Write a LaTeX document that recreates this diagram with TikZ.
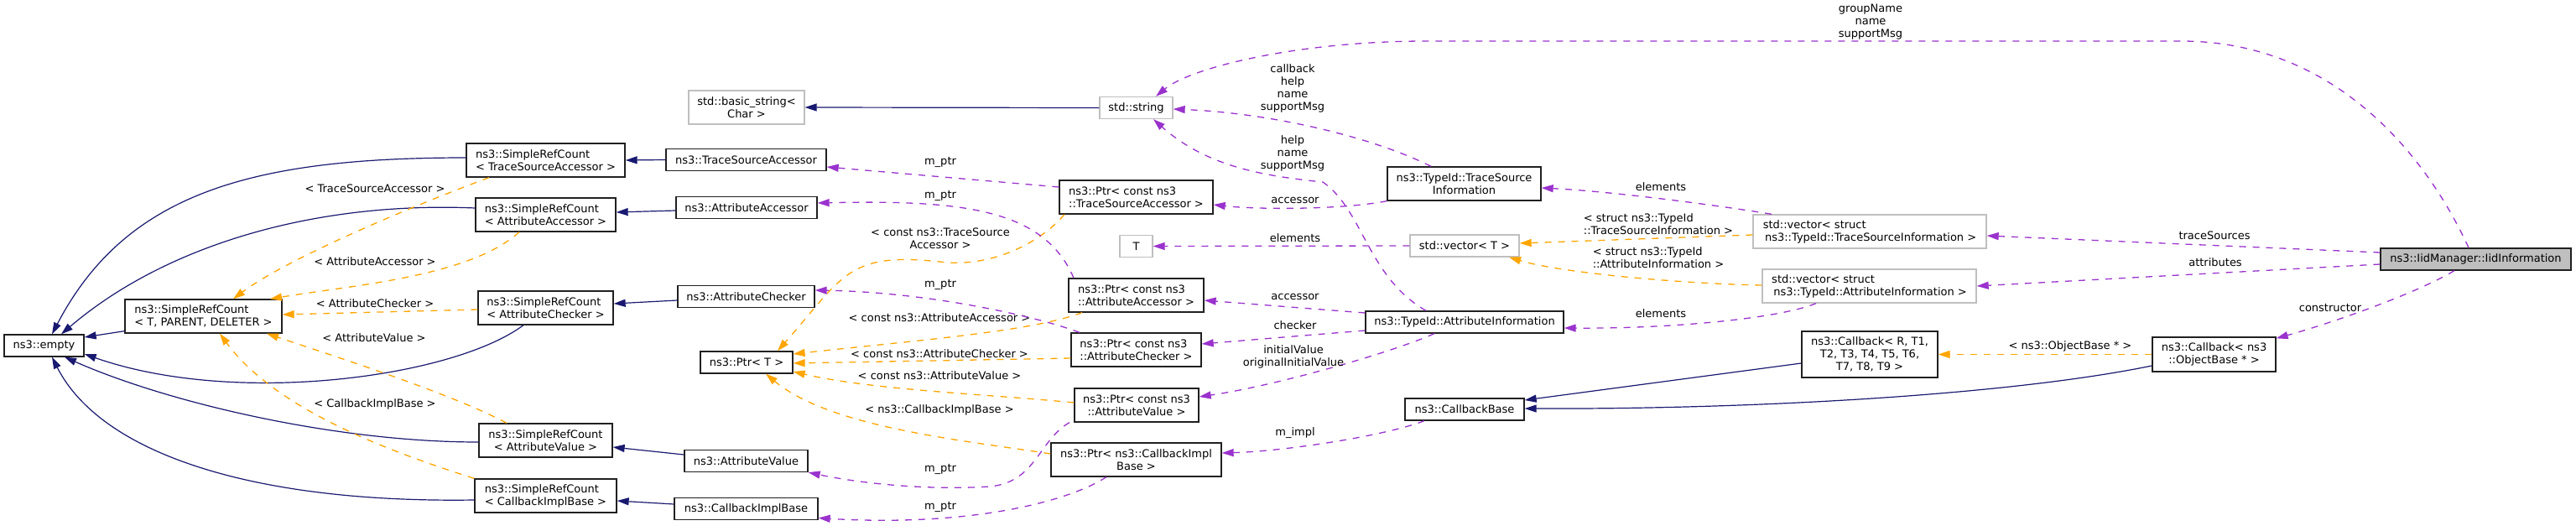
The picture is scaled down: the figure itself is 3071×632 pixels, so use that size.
\documentclass[tikz,border=0pt]{standalone}
\usepackage{fontspec}
\setmainfont{DejaVu Sans}
\usetikzlibrary{arrows.meta}
\definecolor{inhc}{HTML}{191970}
\definecolor{tplc}{HTML}{FFA500}
\definecolor{usec}{HTML}{9A32CD}
\definecolor{undoc}{HTML}{BFBFBF}
\definecolor{docb}{HTML}{202020}
\tikzset{
  cls/.style={draw=docb, line width=1.3pt, fill=white, inner sep=0pt, font=\fontsize{13}{15}\selectfont, align=center},
  ext/.style={cls, draw=undoc},
  cur/.style={cls, fill=undoc},
  lbl/.style={font=\fontsize{13}{15}\selectfont, align=center, inner sep=0pt},
  tipx/.style={-{Triangle[length=14pt,width=9pt]}},
  inh/.style={draw=inhc, line width=1.2pt, tipx},
  tpl/.style={draw=tplc, line width=1.3pt, dash pattern=on 8pt off 8pt, tipx},
  use/.style={draw=usec, line width=1.3pt, dash pattern=on 8pt off 8pt, tipx},
}
\begin{document}
\begin{tikzpicture}[x=1pt,y=-1pt]
\useasboundingbox (0,0) rectangle (3071,632);
% ---------- nodes ----------
\node[cls, minimum width=95pt, minimum height=26pt] (empty) at (52.5,412) {ns3::empty};
\node[cls, align=left, minimum width=187pt, minimum height=40pt] (srcTPD) at (242.5,377) {ns3::SimpleRefCount\\< T, PARENT, DELETER >};
\node[cls, align=left, minimum width=189pt, minimum height=40pt] (srcTSA) at (650.5,191) {ns3::SimpleRefCount\\< TraceSourceAccessor >};
\node[cls, align=left, minimum width=167pt, minimum height=40pt] (srcAA) at (650.5,256) {ns3::SimpleRefCount\\< AttributeAccessor >};
\node[cls, align=left, minimum width=161pt, minimum height=40pt] (srcAC) at (650.5,367) {ns3::SimpleRefCount\\< AttributeChecker >};
\node[cls, minimum width=159pt, minimum height=40pt] (srcAV) at (650.5,525) {ns3::SimpleRefCount\\< AttributeValue >};
\node[cls, align=left, minimum width=169pt, minimum height=40pt] (srcCIB) at (650.5,591) {ns3::SimpleRefCount\\< CallbackImplBase >};
\node[ext, minimum width=138pt, minimum height=40pt] (basicstr) at (890,128) {std::basic\_string<\\Char >};
\node[cls, minimum width=191pt, minimum height=26pt] (TSA) at (889.5,190.5) {ns3::TraceSourceAccessor};
\node[cls, minimum width=168pt, minimum height=26pt] (AA) at (890,247.5) {ns3::AttributeAccessor};
\node[cls, minimum width=163pt, minimum height=26pt] (AC) at (889.5,353.5) {ns3::AttributeChecker};
\node[cls, minimum width=110pt, minimum height=26pt] (PtrT) at (890,432) {ns3::Ptr< T >};
\node[cls, minimum width=147pt, minimum height=26pt] (AV) at (889.5,549.5) {ns3::AttributeValue};
\node[cls, minimum width=171pt, minimum height=26pt] (CIB) at (889.5,606.5) {ns3::CallbackImplBase};
\node[ext, minimum width=87pt, minimum height=26pt] (string) at (1354.5,128.5) {std::string};
\node[cls, align=left, minimum width=183pt, minimum height=40pt] (PtrTSA) at (1354.5,235) {ns3::Ptr< const ns3\\::TraceSourceAccessor >};
\node[ext, minimum width=39pt, minimum height=26pt] (T) at (1354.5,293.5) {T};
\node[cls, align=left, minimum width=161pt, minimum height=40pt] (PtrAA) at (1354.5,352) {ns3::Ptr< const ns3\\::AttributeAccessor >};
\node[cls, align=left, minimum width=155pt, minimum height=40pt] (PtrAC) at (1354.5,417) {ns3::Ptr< const ns3\\::AttributeChecker >};
\node[cls, minimum width=148pt, minimum height=40pt] (PtrAV) at (1355,483) {ns3::Ptr< const ns3\\::AttributeValue >};
\node[cls, minimum width=203pt, minimum height=40pt] (PtrCIB) at (1354.5,548) {ns3::Ptr< ns3::CallbackImpl\\Base >};
\node[cls, minimum width=183pt, minimum height=40pt] (TSI) at (1745.5,219) {ns3::TypeId::TraceSource\\Information};
\node[cls, minimum width=236pt, minimum height=26pt] (AI) at (1746,384) {ns3::TypeId::AttributeInformation};
\node[ext, minimum width=130pt, minimum height=26pt] (vecT) at (1746,293) {std::vector< T >};
\node[cls, minimum width=142pt, minimum height=26pt] (CBBase) at (1746,488) {ns3::CallbackBase};
\node[ext, align=left, minimum width=278pt, minimum height=40pt] (vecTSI) at (2229,276) {std::vector< struct\\\,ns3::TypeId::TraceSourceInformation >};
\node[ext, align=left, minimum width=255pt, minimum height=40pt] (vecAI) at (2228.5,341) {std::vector< struct\\\,ns3::TypeId::AttributeInformation >};
\node[cls, minimum width=162pt, minimum height=55pt] (CbR) at (2229,422.5) {ns3::Callback< R, T1,\\T2, T3, T4, T5, T6,\hspace{12pt}\\T7, T8, T9 >};
\node[cls, minimum width=147pt, minimum height=41pt] (CbOB) at (2639.5,422.5) {ns3::Callback< ns3\\::ObjectBase * >};
\node[cur, minimum width=227pt, minimum height=26pt] (Iid) at (2951.5,309) {ns3::IidManager::IidInformation};
% ---------- inheritance ----------
\draw[inh] ([yshift=3pt]srcTPD.south west) -- ([yshift=10pt]empty.east);
\draw[inh] ([yshift=3pt]srcTSA.west) .. controls (300,188) and (150,230) .. ([xshift=9.5pt]empty.north);
\draw[inh] ([yshift=8pt]srcAA.west) .. controls (380,240) and (200,290) .. ([xshift=20.5pt]empty.north);
\draw[inh] ([xshift=-26.5pt]srcAC.south) .. controls (540,450) and (280,485) .. ([yshift=-10pt]empty.east);
\draw[inh] ([yshift=-2pt]srcAV.west) .. controls (400,527) and (200,480) .. ([xshift=24.5pt]empty.south);
\draw[inh] ([yshift=-5pt]srcCIB.west) .. controls (300,600) and (120,540) .. ([xshift=9.5pt]empty.south);
\draw[inh] (TSA.west) -- (srcTSA.east);
\draw[inh] ([yshift=-3.5pt]AA.west) -- ([yshift=3pt]srcAA.east);
\draw[inh] ([yshift=-4.5pt]AC.west) -- ([yshift=5pt]srcAC.east);
\draw[inh] ([yshift=7.5pt]AV.west) -- ([yshift=-8pt]srcAV.east);
\draw[inh] ([yshift=5.5pt]CIB.west) -- ([yshift=-6pt]srcCIB.east);
\draw[inh] (string.west) -- (basicstr.east);
\draw[inh] ([yshift=-10.5pt]CbR.west) -- ([yshift=11pt]CBBase.east);
\draw[inh] ([yshift=-13.5pt]CbOB.west) .. controls (2400,470) and (2100,488) .. ([yshift=1pt]CBBase.east);
% ---------- template instances ----------
\draw[tpl] ([xshift=-67.5pt]srcTSA.south) .. controls (480,250) and (340,310) .. ([xshift=35.5pt]srcTPD.north);
\node[lbl] (lTSA) at (447,225) {< TraceSourceAccessor >};
\draw[tpl] ([xshift=-31.5pt]srcAA.south) .. controls (560,330) and (420,340) .. ([xshift=79.5pt]srcTPD.north);
\node[lbl] (lAA) at (447,312) {< AttributeAccessor >};
\draw[tpl] ([yshift=-2pt]srcAC.west) -- ([yshift=2pt]srcTPD.east);
\node[lbl] (lAC) at (447,362) {< AttributeChecker >};
\draw[tpl] ([xshift=-46.5pt]srcAV.north) .. controls (540,470) and (400,425) .. ([xshift=75.5pt]srcTPD.south);
\node[lbl] (lAV) at (446,403) {< AttributeValue >};
\draw[tpl] (srcCIB.north west) .. controls (470,540) and (330,490) .. ([xshift=19.5pt]srcTPD.south);
\node[lbl] (lCIB) at (447,482) {< CallbackImplBase >};
\draw[tpl] ([xshift=-85.5pt]PtrTSA.south) .. controls (1240,290) and (1180,320) .. (1120,312)
   .. controls (1010,300) and (1005,330) .. ([xshift=37pt]PtrT.north);
\node[lbl] (lcTSA) at (1121,284.5) {< const ns3::TraceSource\\Accessor >};
\draw[tpl] ([xshift=-64.5pt]PtrAA.south) .. controls (1230,395) and (1100,405) .. ([yshift=10pt]PtrT.east);
\node[lbl] (lcAA) at (1120,379) {< const ns3::AttributeAccessor >};
\draw[tpl] ([yshift=-10pt]PtrAC.west) -- ([yshift=-1pt]PtrT.east);
\node[lbl] (lcAC) at (1120,422) {< const ns3::AttributeChecker >};
\draw[tpl] ([yshift=3pt]PtrAV.west) .. controls (1180,470) and (1040,465) .. ([yshift=-11pt]PtrT.east);
\node[lbl] (lcAV) at (1120,448) {< const ns3::AttributeValue >};
\draw[tpl] ([yshift=7pt]PtrCIB.west) .. controls (1150,525) and (990,510) .. ([xshift=23pt]PtrT.south);
\node[lbl] (lcCIB) at (1120,489) {< ns3::CallbackImplBase >};
\draw[tpl] ([yshift=-4pt]vecTSI.west) -- ([yshift=3pt]vecT.east);
\node[lbl, align=left] (lvTSI) at (1977,267) {< struct ns3::TypeId\\::TraceSourceInformation >};
\draw[tpl] ([yshift=1pt]vecAI.west) .. controls (2000,338) and (1860,325) .. ([xshift=53pt]vecT.south);
\node[lbl, align=left] (lvAI) at (1977,307.5) {< struct ns3::TypeId\\::AttributeInformation >};
\draw[tpl] (CbOB.west) -- (CbR.east);
\node[lbl] (lOB) at (2468,413) {< ns3::ObjectBase * >};
% ---------- usage ----------
\draw[use] ([yshift=12pt]PtrTSA.west) -- ([yshift=-8.5pt]TSA.east);
\node[lbl] (m1) at (1121,193) {m\_ptr};
\draw[use] ([xshift=-74.5pt]PtrAA.north) .. controls (1245,250) and (1150,238) .. ([yshift=5.5pt]AA.east);
\node[lbl] (m2) at (1121,233) {m\_ptr};
\draw[use] ([xshift=-67.5pt]PtrAC.north) .. controls (1230,375) and (1100,348) .. ([yshift=7.5pt]AC.east);
\node[lbl] (m3) at (1121,339) {m\_ptr};
\draw[use] ([xshift=-80pt]PtrAV.south) .. controls (1238,525) and (1235,575) .. (1180,580)
   .. controls (1100,585) and (1020,575) .. (AV.south east);
\node[lbl] (m4) at (1121,559) {m\_ptr};
\draw[use] ([xshift=-35.5pt]PtrCIB.south) .. controls (1270,600) and (1150,628) .. ([yshift=-11pt]CIB.east);
\node[lbl] (m5) at (1121,604) {m\_ptr};
\draw[use] ([xshift=-39.5pt]TSI.north) .. controls (1640,165) and (1520,135) .. ([yshift=-1.5pt]string.east);
\node[lbl] (lcb) at (1541,105.5) {callback\\help\\name\\supportMsg};
\draw[use] ([xshift=-8.5pt]Iid.north) .. controls (2890,180) and (2780,49) .. (2600,49)
   -- (1700,49) .. controls (1550,49) and (1420,80) .. ([xshift=23.5pt]string.north);
\node[lbl] (lgn) at (2230,26.5) {groupName\\name\\supportMsg};
\draw[use] ([xshift=-46pt]AI.north) .. controls (1630,330) and (1625,250) .. (1577,217)
   .. controls (1510,210) and (1440,200) .. ([xshift=20.5pt]string.south);
\node[lbl] (lhn) at (1541,183) {help\\name\\supportMsg};
\draw[use] (TSI.south west) .. controls (1600,250) and (1500,250) .. ([yshift=-9pt]PtrTSA.east);
\node[lbl] (lacc1) at (1544,239) {accessor};
\draw[use] (vecT.west) -- (T.east);
\node[lbl] (lel1) at (1544,284) {elements};
\draw[use] ([xshift=-117pt]vecTSI.north) .. controls (2050,245) and (1920,228) .. ([yshift=-5pt]TSI.east);
\node[lbl] (lel2) at (1980,223) {elements};
\draw[use] ([xshift=-63.5pt]vecAI.south) .. controls (2120,380) and (1990,392) .. ([yshift=-7pt]AI.east);
\node[lbl] (lel3) at (1980,374) {elements};
\draw[use] ([yshift=11pt]AI.west) -- ([yshift=-6pt]PtrAA.east);
\node[lbl] (lacc2) at (1544,354) {accessor};
\draw[use] ([yshift=-10pt]AI.west) -- ([yshift=7pt]PtrAC.east);
\node[lbl] (lchk) at (1544,388) {checker};
\draw[use] ([xshift=-36pt]AI.south) .. controls (1660,420) and (1520,460) .. ([yshift=10pt]PtrAV.east);
\node[lbl] (liv) at (1542,425.5) {initialValue\\originalInitialValue};
\draw[use] ([xshift=-48pt]CBBase.south) .. controls (1650,520) and (1530,538) .. ([yshift=8pt]PtrCIB.east);
\node[lbl] (lmi) at (1544,516) {m\_impl};
\draw[use] ([yshift=8pt]Iid.west) -- ([yshift=-5pt]vecTSI.east);
\node[lbl] (lts) at (2640,281) {traceSources};
\draw[use] ([yshift=-6pt]Iid.west) -- (vecAI.east);
\node[lbl] (lat) at (2641,313) {attributes};
\draw[use] ([xshift=-25.5pt]Iid.south) .. controls (2880,350) and (2780,385) .. ([yshift=-2pt]CbOB.north east);
\node[lbl] (lcon) at (2778,367) {constructor};
\end{tikzpicture}
\end{document}
